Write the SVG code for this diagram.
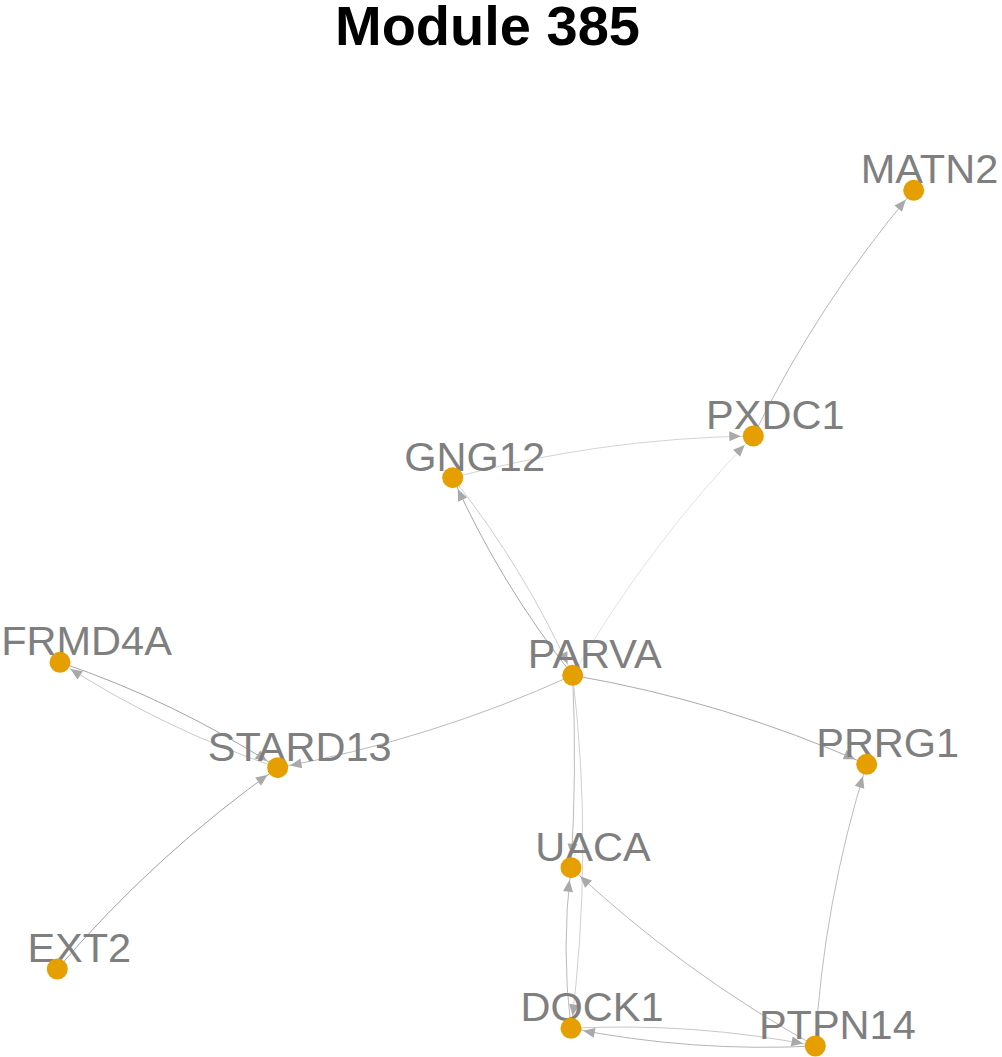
<svg xmlns="http://www.w3.org/2000/svg" width="1002" height="1057" viewBox="0 0 1002 1057">
<style>
.edge{fill:none;stroke-width:1;marker-end:url(#arr)}
.lbl{font-family:"Liberation Sans",Arial,sans-serif;font-size:41.5px;fill:#7F7F7F;text-anchor:middle}
.node{fill:#E69F00}
.title{font-family:"Liberation Sans",Arial,sans-serif;font-size:56px;font-weight:bold;fill:#000;text-anchor:middle}
</style>
<defs>
<marker id="arr" markerUnits="userSpaceOnUse" markerWidth="30" markerHeight="30" refX="0" refY="0" orient="auto" overflow="visible" viewBox="-30 -15 30 30">
<path d="M -24 -5 L -12.5 0 L -24 5 Z" fill="#A9A9A9"/>
</marker>
</defs>
<rect width="1002" height="1057" fill="#fff"/>
<text class="title" x="487.5" y="45">Module 385</text>
<g id="edges">
<path class="edge" stroke="#D4D4D4" d="M452.7,477.7 Q600.4,438.2 753.3,436"/>
<path class="edge" stroke="#E2E2E2" d="M572.7,675.3 Q648.2,544.5 753.3,436"/>
<path class="edge" stroke="#B8B8B8" d="M753.3,436 Q818.3,303.2 913.7,190.3"/>
<path class="edge" stroke="#A8A8A8" d="M572.7,675.3 Q500.45,583.94 452.7,477.7"/>
<path class="edge" stroke="#CDCDCD" d="M452.7,477.7 Q524.95,569.06 572.7,675.3"/>
<path class="edge" stroke="#A4A4A4" d="M60,662.3 Q175.4,701.5 277.7,767.7"/>
<path class="edge" stroke="#CACACA" d="M277.7,767.7 Q162.3,728.5 60,662.3"/>
<path class="edge" stroke="#BBBBBB" d="M572.7,675.3 Q430.9,739.8 277.7,767.7"/>
<path class="edge" stroke="#A2A2A2" d="M57.3,969 Q155,854.7 277.7,767.7"/>
<path class="edge" stroke="#ABABAB" d="M572.7,675.3 Q725.2,701.6 866.7,764.3"/>
<path class="edge" stroke="#BCBCBC" d="M815.3,1046 Q823.5,902 866.7,764.3"/>
<path class="edge" stroke="#BBBBBB" d="M572.7,675.3 Q577,771.5 571,867.7"/>
<path class="edge" stroke="#D0D0D0" d="M572.7,675.3 Q593.7,851.9 571,1028.3"/>
<path class="edge" stroke="#BABABA" d="M571,1028.3 Q561,948 571,867.7"/>
<path class="edge" stroke="#B8B8B8" d="M815.3,1046 Q682.1,972 571,867.7"/>
<path class="edge" stroke="#C8C8C8" d="M571,1028.3 Q694.25,1022 815.3,1046"/>
<path class="edge" stroke="#B4B4B4" d="M815.3,1046 Q692.05,1052.3 571,1028.3"/>
</g>
<g id="n-MATN2"><text class="lbl" x="929.5" y="183.3">MATN2</text><circle class="node" cx="913.7" cy="190.3" r="10.5"/></g>
<g id="n-PXDC1"><text class="lbl" x="775.3" y="429">PXDC1</text><circle class="node" cx="753.3" cy="436" r="10.5"/></g>
<g id="n-GNG12"><text class="lbl" x="474.7" y="470.7">GNG12</text><circle class="node" cx="452.7" cy="477.7" r="10.5"/></g>
<g id="n-PARVA"><text class="lbl" x="594.7" y="668.3">PARVA</text><circle class="node" cx="572.7" cy="675.3" r="10.5"/></g>
<g id="n-FRMD4A"><text class="lbl" x="86.5" y="655.3">FRMD4A</text><circle class="node" cx="60" cy="662.3" r="10.5"/></g>
<g id="n-STARD13"><text class="lbl" x="299.7" y="760.7">STARD13</text><circle class="node" cx="277.7" cy="767.7" r="10.5"/></g>
<g id="n-PRRG1"><text class="lbl" x="887.7" y="757.3">PRRG1</text><circle class="node" cx="866.7" cy="764.3" r="10.5"/></g>
<g id="n-UACA"><text class="lbl" x="593" y="860.7">UACA</text><circle class="node" cx="571" cy="867.7" r="10.5"/></g>
<g id="n-EXT2"><text class="lbl" x="79.3" y="962">EXT2</text><circle class="node" cx="57.3" cy="969" r="10.5"/></g>
<g id="n-DOCK1"><text class="lbl" x="592" y="1021.3">DOCK1</text><circle class="node" cx="571" cy="1028.3" r="10.5"/></g>
<g id="n-PTPN14"><text class="lbl" x="837.3" y="1039">PTPN14</text><circle class="node" cx="815.3" cy="1046" r="10.5"/></g>
</svg>
